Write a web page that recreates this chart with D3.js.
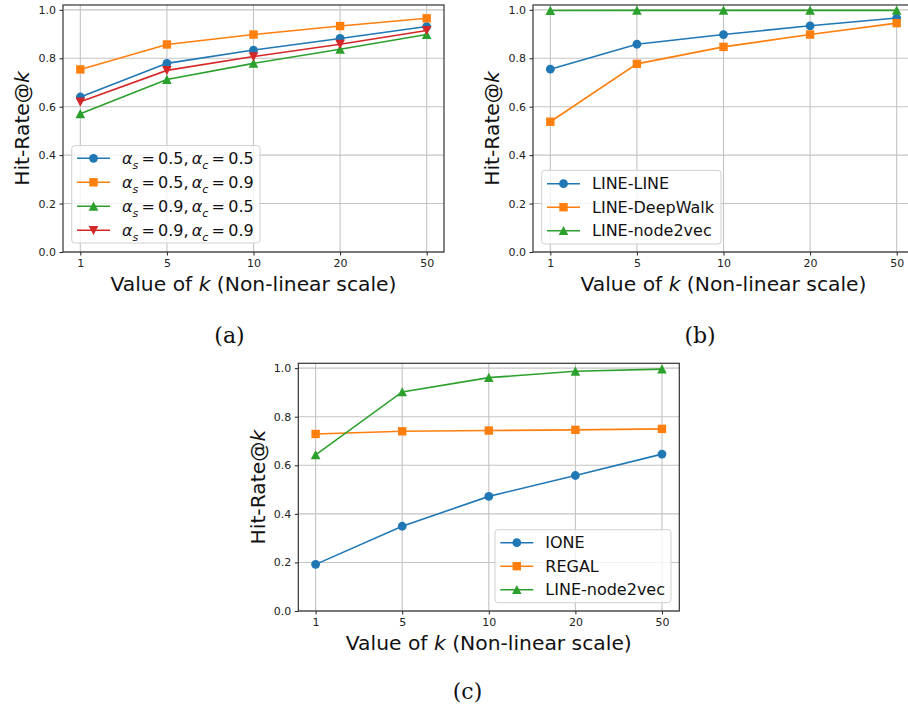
<!DOCTYPE html>
<html>
<head>
<meta charset="utf-8">
<script src="https://cdn.jsdelivr.net/npm/d3@7"></script>
<style>
  body { margin: 0; background: #fff; }
  svg { display: block; font-family: "DejaVu Sans", sans-serif; }
</style>
</head>
<body>
<svg id="chart" width="908" height="708"></svg>
<script>
(function () {

    // x categories (non-linear k) and y ticks
    const kLabels = ['1', '5', '10', '20', '50'];
    const yTicks = [0, 0.2, 0.4, 0.6, 0.8, 1.0];

    // (a) alpha settings
    const alphaPairs = [['0.5', '0.5'], ['0.5', '0.9'], ['0.9', '0.5'], ['0.9', '0.9']];
    const hitS05C05 = [0.640, 0.779, 0.834, 0.882, 0.931];
    const hitS05C09 = [0.754, 0.857, 0.898, 0.933, 0.965];
    const hitS09C05 = [0.571, 0.712, 0.779, 0.837, 0.898];
    const hitS09C09 = [0.620, 0.750, 0.807, 0.858, 0.915];

    // (b) embedding combos
    const comboNames = ['LINE-LINE', 'LINE-DeepWalk', 'LINE-node2vec'];
    const hitLineLine = [0.755, 0.858, 0.898, 0.934, 0.966];
    const hitLineDeepWalk = [0.538, 0.777, 0.847, 0.898, 0.945];
    const hitLineNode2vecB = [0.997, 0.998, 0.998, 0.998, 0.998];

    // (c) baselines
    const methodNames = ['IONE', 'REGAL', 'LINE-node2vec'];
    const hitIone = [0.192, 0.349, 0.472, 0.558, 0.646];
    const hitRegal = [0.729, 0.740, 0.743, 0.746, 0.750];
    const hitLineNode2vecC = [0.643, 0.902, 0.961, 0.987, 0.996];

    const colors = ['#1f77b4', '#ff7f0e', '#2ca02c', '#d62728'];
    const shapes = ['circle', 'square', 'triUp', 'triDown'];

    const svg = d3.select('#chart');

    const panels = [
        {
            left: 63, top: 5, width: 381, height: 247,
            series: [hitS05C05, hitS05C09, hitS09C05, hitS09C09],
            labels: alphaPairs, math: true,
            legend: { x: 8.7, bottom: 9, w: 188.3, first: 12.7, gap: 24, anchor: 'left' },
            caption: { text: '(a)', x: 229.5, y: 343 }
        },
        {
            left: 533, top: 5, width: 381, height: 247,
            series: [hitLineLine, hitLineDeepWalk, hitLineNode2vecB],
            labels: comboNames,
            legend: { x: 8.7, bottom: 8, w: 179.3, first: 13.3, gap: 23.5, anchor: 'left' },
            caption: { text: '(b)', x: 700, y: 343 }
        },
        {
            left: 298.3, top: 363.3, width: 381, height: 247.7,
            series: [hitIone, hitRegal, hitLineNode2vecC],
            labels: methodNames,
            legend: { x: 8.3, bottom: 8.3, w: 176, first: 13, gap: 23.5, anchor: 'right' },
            caption: { text: '(c)', x: 467.5, y: 699 }
        }
    ];

    function marker (sel, shape, color) {
        if (shape === 'circle') {
            sel.append('circle').attr('r', 4.4).attr('fill', color);
        } else if (shape === 'square') {
            sel.append('rect').attr('x', -4.2).attr('y', -4.2).attr('width', 8.4).attr('height', 8.4).attr('fill', color);
        } else {
            const s = shape === 'triUp' ? 1 : -1;
            sel.append('path')
                .attr('d', `M0,${-4.8 * s}L${4.8},${4.4 * s}L${-4.8},${4.4 * s}Z`)
                .attr('fill', color);
        }
    }

    function mathLabel (text, pair) {
        const alpha = (sub, val, tail) => {
            text.append('tspan').attr('font-style', 'italic').text('α');
            text.append('tspan').attr('font-style', 'italic').attr('font-size', '11px').attr('dy', 4.5).text(sub);
            text.append('tspan').attr('dy', -4.5).text('\u2009=\u2009' + val + tail);
        };
        alpha('s', pair[0], ',\u2009');
        alpha('c', pair[1], '');
    }

    function drawPanel (p) {
        const g = svg.append('g').attr('transform', `translate(${p.left},${p.top})`);

        const x = d3.scaleLinear().domain([-0.2, 4.2]).range([0, p.width]);
        const y = d3.scaleLinear().domain([0, 1.02]).range([p.height, 0]);

        // grid
        g.append('g').selectAll('line.gy').data(yTicks).join('line')
            .attr('x1', 0).attr('x2', p.width)
            .attr('y1', d => y(d)).attr('y2', d => y(d))
            .attr('stroke', '#c4c4c4').attr('stroke-width', 1.1);
        g.append('g').selectAll('line.gx').data(kLabels).join('line')
            .attr('x1', (d, i) => x(i)).attr('x2', (d, i) => x(i))
            .attr('y1', 0).attr('y2', p.height)
            .attr('stroke', '#c4c4c4').attr('stroke-width', 1.1);

        // axes
        const yAxis = d3.axisLeft(y).tickValues(yTicks).tickFormat(d3.format('.1f'))
            .tickSize(3.5).tickPadding(3.5);
        const xAxis = d3.axisBottom(x).tickValues(d3.range(kLabels.length))
            .tickFormat(i => kLabels[i]).tickSize(3.5).tickPadding(3.5);

        const ya = g.append('g').call(yAxis);
        const xa = g.append('g').attr('transform', `translate(0,${p.height})`).call(xAxis);
        [ya, xa].forEach(a => {
            a.select('.domain').remove();
            a.selectAll('text').attr('font-family', 'DejaVu Sans').attr('font-size', '11px').attr('fill', '#222');
            a.selectAll('line').attr('stroke', '#222');
        });

        // series
        const line = d3.line().x((d, i) => x(i)).y(d => y(d));
        p.series.forEach((vals, si) => {
            g.append('path').datum(vals)
                .attr('d', line)
                .attr('fill', 'none')
                .attr('stroke', colors[si])
                .attr('stroke-width', 1.6);
            vals.forEach((v, i) => {
                g.append('g').attr('transform', `translate(${x(i)},${y(v)})`)
                    .call(marker, shapes[si], colors[si]);
            });
        });

        // frame
        g.append('rect').attr('width', p.width).attr('height', p.height)
            .attr('fill', 'none').attr('stroke', '#333').attr('stroke-width', 1.2);

        // legend
        const L = p.legend;
        const rows = p.series.length;
        const lh = L.first * 2 + L.gap * (rows - 1);
        const lx = L.anchor === 'left' ? L.x : p.width - L.x - L.w;
        const ly = p.height - L.bottom - lh;
        const lg = g.append('g').attr('transform', `translate(${lx},${ly})`);
        lg.append('rect').attr('width', L.w).attr('height', lh).attr('rx', 3)
            .attr('fill', 'rgba(255,255,255,0.8)').attr('stroke', '#d0d0d0');
        p.labels.forEach((lab, i) => {
            const ry = L.first + i * L.gap;
            lg.append('line').attr('x1', 5.3).attr('x2', 38.3).attr('y1', ry).attr('y2', ry)
                .attr('stroke', colors[i]).attr('stroke-width', 1.6);
            lg.append('g').attr('transform', `translate(21.8,${ry})`).call(marker, shapes[i], colors[i]);
            const t = lg.append('text').attr('x', 50.3).attr('y', ry).attr('dy', '0.36em')
                .attr('font-size', '16px').attr('fill', '#111');
            if (p.math) mathLabel(t, lab); else t.text(lab);
        });

        // axis labels
        const yl = g.append('text')
            .attr('transform', `translate(-41,${p.height / 2}) rotate(-90)`)
            .attr('text-anchor', 'middle').attr('dy', '0.36em')
            .attr('font-size', '20.3px').attr('fill', '#111');
        yl.append('tspan').text('Hit-Rate@');
        yl.append('tspan').attr('font-style', 'italic').text('k');

        const xl = g.append('text')
            .attr('x', p.width / 2).attr('y', p.height + 38.6)
            .attr('text-anchor', 'middle')
            .attr('font-size', '20.3px').attr('fill', '#111');
        xl.append('tspan').text('Value of ');
        xl.append('tspan').attr('font-style', 'italic').text('k');
        xl.append('tspan').text(' (Non-linear scale)');

        // caption
        svg.append('text').attr('x', p.caption.x).attr('y', p.caption.y)
            .attr('text-anchor', 'middle')
            .attr('font-family', '"DejaVu Serif", serif').attr('font-size', '22px')
            .attr('fill', '#111')
            .text(p.caption.text);
    }

    panels.forEach(drawPanel);

})();
</script>
</body>
</html>
